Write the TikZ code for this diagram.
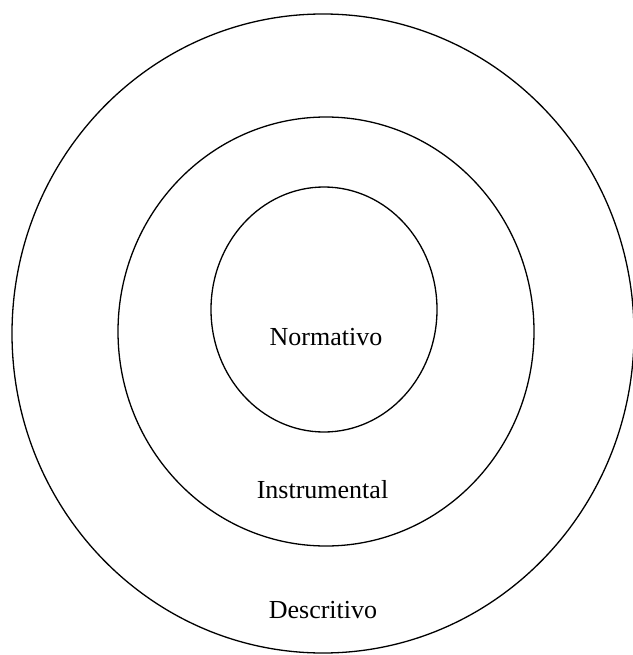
\documentclass[tikz,border=0pt]{standalone}
\usepackage{fontspec}
\setmainfont{Liberation Serif}
\usetikzlibrary{shapes.geometric}
\begin{document}
\begin{tikzpicture}[x=1pt,y=-1pt,
  ring/.style={draw, ellipse, line width=1.3pt, inner sep=0pt, outer sep=0pt},
  lbl/.style={anchor=base, inner sep=0pt, font=\fontsize{26}{31}\selectfont}]
\useasboundingbox (0,0) rectangle (632,655);
\node[ring, minimum width=622pt, minimum height=639pt] (outer) at (323,333.5) {};
\node[ring, minimum width=416pt, minimum height=429pt] (middle) at (326,331.5) {};
\node[ring, minimum width=226pt, minimum height=245pt] (inner) at (324,309.5) {};
\node[lbl] (norm) at (326,345) {Normativo};
\node[lbl] (instr) at (322.5,498) {Instrumental};
\node[lbl] (desc) at (323,618) {Descritivo};
\end{tikzpicture}
\end{document}
